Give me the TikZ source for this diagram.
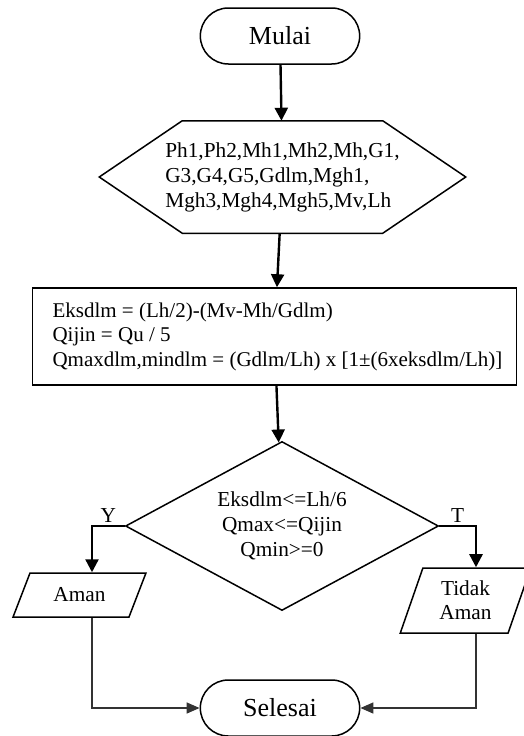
\documentclass[tikz,border=0pt]{standalone}
\usepackage{fontspec}
\setmainfont{Liberation Serif}
\usetikzlibrary{shapes.geometric,shapes.misc,arrows.meta}

\begin{document}
\begin{tikzpicture}[x=1pt, y=-1pt, line width=1.5pt,
    term/.style={draw, rounded rectangle, minimum width=166pt, minimum height=56pt,
                 font=\fontsize{26}{30}\selectfont},
    inbox/.style={rectangle, minimum width=365pt, minimum height=111pt,
                  inner sep=0pt, align=left, font=\fontsize{21.3}{25}\selectfont},
    procbox/.style={draw, rectangle, text width=480pt, minimum height=97pt, inner xsep=2pt,
                    align=left, execute at begin node={\leftskip=18pt\spaceskip=5.3pt},
                    font=\fontsize{21}{24.5}\selectfont},
    decide/.style={draw, diamond, aspect=1.85, minimum width=313pt, minimum height=169pt,
                   inner sep=0pt, align=center, font=\fontsize{21.3}{25}\selectfont},
    outbox/.style={draw, trapezium, trapezium stretches=true, inner sep=0pt,
                   align=center, font=\fontsize{21.3}{24}\selectfont},
    arrow/.style={-{Triangle[length=13pt,width=13pt]}, line width=2.4pt},
    line/.style={-{Triangle[length=13pt,width=11pt]}, line width=1.5pt, draw=black!80},
    label/.style={font=\fontsize{21.3}{25}\selectfont, inner sep=2pt}
  ]
    \useasboundingbox (0,0) rectangle (524,736);

    \node[term] (mulai) at (280,36) {Mulai};
    \node[inbox] (input) at (282.5,177)
      {Ph1,Ph2,Mh1,Mh2,Mh,G1,\\G3,G4,G5,Gdlm,Mgh1,\\Mgh3,Mgh4,Mgh5,Mv,Lh};
    % hexagon round the input
    \draw (input.west) -- ([xshift=83pt]input.north west) -- ([xshift=-83pt]input.north east)
      -- (input.east) -- ([xshift=-83pt]input.south east) -- ([xshift=83pt]input.south west) -- cycle;
    \node[procbox] (hitung) at (274.5,336.5)
      {Eksdlm = (Lh/2)-(Mv-Mh/Gdlm)\\Qijin = Qu / 5\\Qmaxdlm,mindlm = (Gdlm/Lh) x [1±(6xeksdlm/Lh)]};
    \node[decide] (cek) at (282,526) {Eksdlm<=Lh/6\\Qmax<=Qijin\\Qmin>=0};
    \node[outbox, trapezium left angle=58, trapezium right angle=122,
          minimum width=133pt, minimum height=44pt] (aman) at (79.5,595) {Aman};
    \node[outbox, trapezium left angle=70.5, trapezium right angle=109.5,
          minimum width=131pt, minimum height=65pt] (tidak) at (465.5,600.5) {Tidak\\Aman};
    \node[term] (selesai) at (280,708) {Selesai};

    \draw[arrow] (mulai) -- (input);
    \draw[arrow] (input) -- (hitung);
    \draw[arrow] (hitung) -- (cek);
    \draw[arrow] (cek.west) -| node[pos=0.25, above, label] {Y} ([xshift=12.5pt]aman.north);
    \draw[arrow] (cek.east) -| node[pos=0.25, above, label] {T} ([xshift=10.5pt]tidak.north);

    \draw[line] ([xshift=12.5pt]aman.south) |- (selesai.west);
    \draw[line] ([xshift=10.5pt]tidak.south) |- (selesai.east);
  \end{tikzpicture}
\end{document}
